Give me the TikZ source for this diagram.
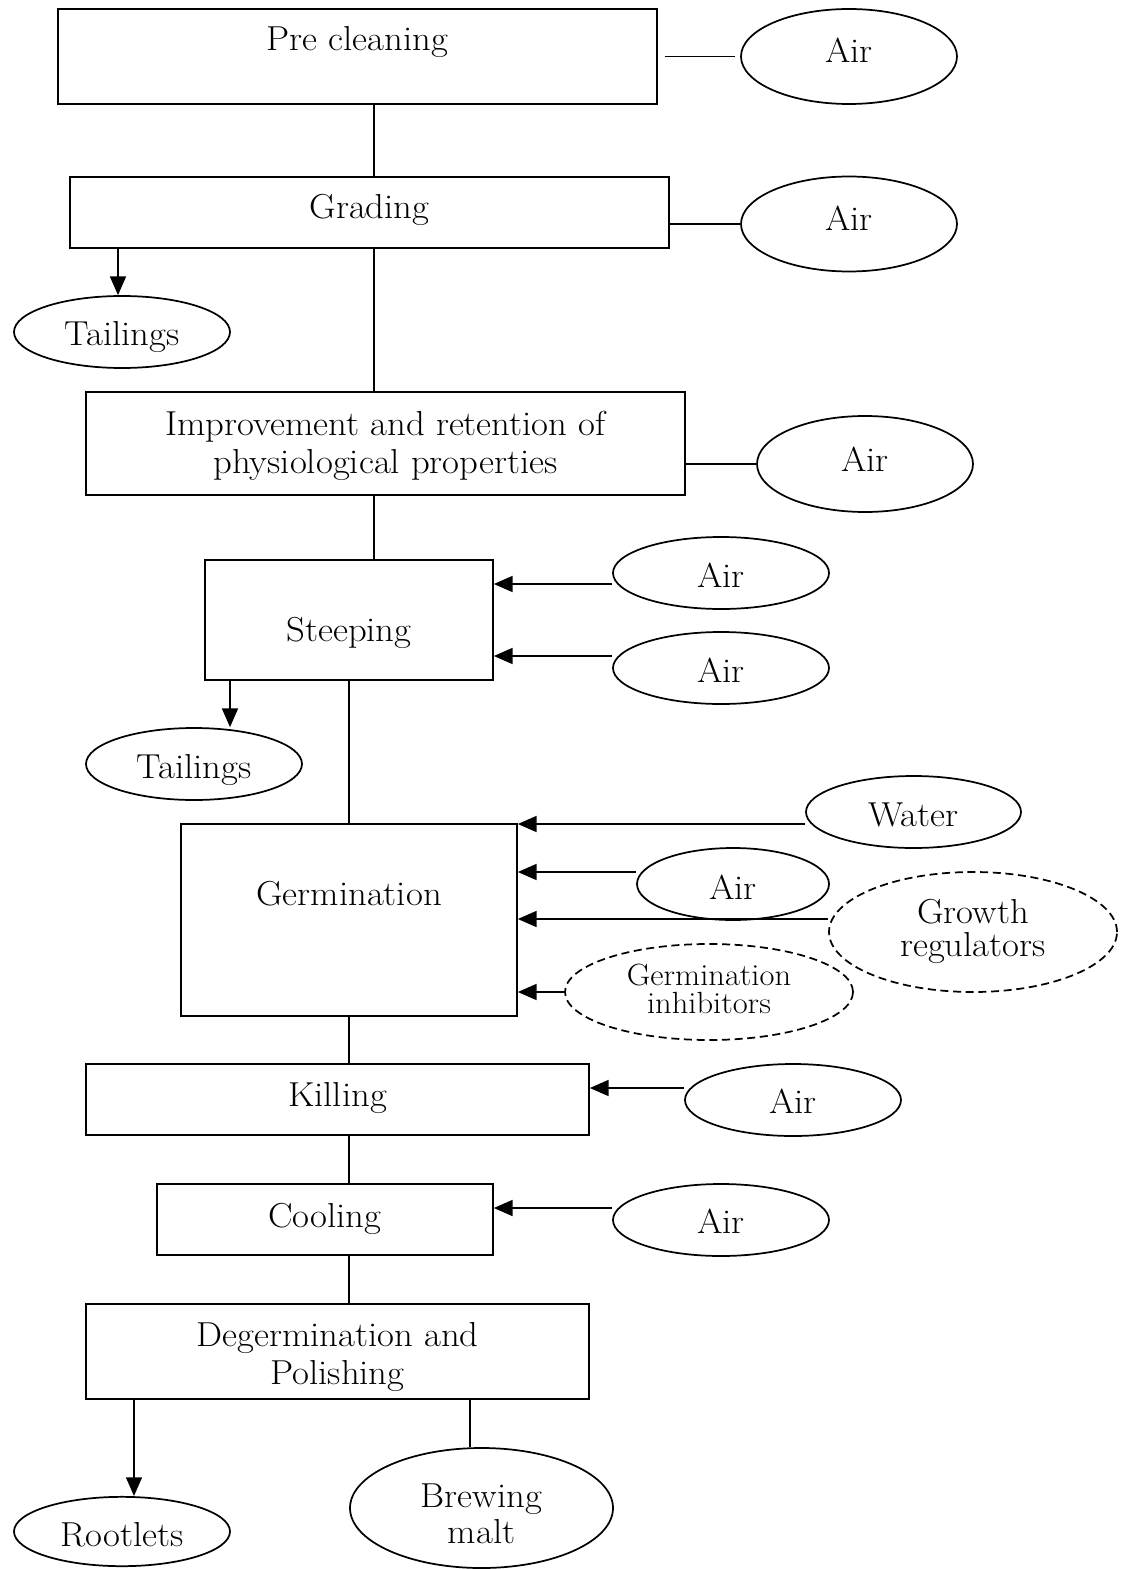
\documentclass[tikz,border=0pt]{standalone}
\usepackage{fontspec}
\setmainfont{Latin Modern Roman}[FakeStretch=1.06]
\usetikzlibrary{shapes.geometric,arrows.meta}
\begin{document}
\begin{tikzpicture}[x=0.75pt,y=-0.75pt,
  box/.style={draw, line width=1.3pt, rectangle, inner sep=0pt},
  oval/.style={draw, line width=1.3pt, ellipse, inner sep=0pt},
  dashedoval/.style={oval, dash pattern=on 6pt off 3.5pt},
  txt/.style={font=\fontsize{26}{28}\selectfont, anchor=base, inner sep=0pt, align=center},
  smalltxt/.style={font=\fontsize{23}{21}\selectfont, anchor=base, inner sep=0pt, align=center},
  link/.style={line width=1.1pt},
  arr/.style={line width=1.1pt, -{Triangle[length=14pt,width=12pt]}}]
\useasboundingbox (0,0) rectangle (1129,1569);

% ---- process boxes ----
\node[box, minimum width=449.25pt, minimum height=71.25pt] (pre)  at (357.5,56.5) {};
\node[box, minimum width=449.25pt, minimum height=53.25pt] (grad) at (369.5,212.5) {};
\node[box, minimum width=449.25pt, minimum height=77.25pt] (imp)  at (385.5,443.5) {};
\node[box, minimum width=216pt,    minimum height=90pt]    (st)   at (349,620) {};
\node[box, minimum width=252pt,    minimum height=144pt]   (germ) at (349,920) {};
\node[box, minimum width=377.25pt, minimum height=53.25pt] (kill) at (337.5,1099.5) {};
\node[box, minimum width=252pt,    minimum height=53.25pt] (cool) at (325,1219.5) {};
\node[box, minimum width=377.25pt, minimum height=71.25pt] (deg)  at (337.5,1351.5) {};

% labels are placed by the baseline of their last line
\node[txt] (preT)  at (357.5,51)  {Pre cleaning};
\node[txt] (gradT) at (369.5,219) {Grading};
\node[txt] (impT)  at (385.5,473) {Improvement and retention of\\physiological properties};
\node[txt] (stT)   at (349,641)   {Steeping};
\node[txt] (germT) at (349,905)   {Germination};
\node[txt] (killT) at (337.5,1106) {Killing};
\node[txt] (coolT) at (325,1227)  {Cooling};
\node[txt] (degT)  at (337.5,1384) {Degermination and\\Polishing};

% ---- inputs and outputs ----
\node[oval, minimum width=162pt, minimum height=71.25pt] (air1) at (849,56.5) {};
\node[oval, minimum width=162pt, minimum height=71.25pt] (air2) at (849,224) {};
\node[oval, minimum width=162pt, minimum height=72pt]    (air3) at (865,464) {};
\node[oval, minimum width=162pt, minimum height=54pt]    (air4) at (721,573) {};
\node[oval, minimum width=162pt, minimum height=54pt]    (air5) at (721,668) {};
\node[oval, minimum width=162pt, minimum height=54pt]    (tail1) at (122,332) {};
\node[oval, minimum width=162pt, minimum height=54pt]    (tail2) at (194,764) {};
\node[oval, minimum width=161.25pt, minimum height=54pt] (water) at (913.5,812) {};
\node[oval, minimum width=144pt, minimum height=54pt]    (air6) at (733,884) {};
\node[dashedoval, minimum width=216pt, minimum height=90pt] (grow) at (973,932) {};
\node[dashedoval, minimum width=216pt, minimum height=72pt] (inh)  at (709,992) {};
\node[oval, minimum width=162pt, minimum height=54pt]    (air7) at (793,1100) {};
\node[oval, minimum width=162pt, minimum height=54pt]    (air8) at (721,1220) {};
\node[oval, minimum width=162pt, minimum height=52pt]    (root) at (122,1531.5) {};
\node[oval, minimum width=197.25pt, minimum height=90pt] (brew) at (481.5,1508) {};

\node[txt] (air1T)  at (849,63)   {Air};
\node[txt] (air2T)  at (849,231)  {Air};
\node[txt] (air3T)  at (865,471)  {Air};
\node[txt] (air4T)  at (721,587)  {Air};
\node[txt] (air5T)  at (721,682)  {Air};
\node[txt] (tail1T) at (122,345)  {Tailings};
\node[txt] (tail2T) at (194,778)  {Tailings};
\node[txt] (waterT) at (913.5,826) {Water};
\node[txt] (air6T)  at (733,899)  {Air};
\node[txt, font=\fontsize{26}{24.5}\selectfont] (growT) at (973,956) {Growth\\regulators};
\node[smalltxt] (inhT) at (709,1013) {Germination\\inhibitors};
\node[txt] (air7T)  at (793,1113) {Air};
\node[txt] (air8T)  at (721,1233) {Air};
\node[txt] (rootT)  at (122,1546) {Rootlets};
\node[txt, font=\fontsize{26}{27}\selectfont] (brewT) at (481.5,1543) {Brewing\\malt};

% ---- column positions of the main flow ----
\coordinate (c1) at (374,0);
\coordinate (c2) at (349,0);
\coordinate (c3) at (118,0);
\coordinate (c4) at (230,0);
\coordinate (c5) at (134,0);
\coordinate (c6) at (470,0);

% ---- main flow ----
\draw[link] (pre.south -| c1) -- (grad.north -| c1);
\draw[link] (grad.south -| c1) -- (imp.north -| c1);
\draw[link] (imp.south -| c1) -- (st.north -| c1);
\draw[link] (st.south -| c2) -- (germ.north -| c2);
\draw[link] (germ.south -| c2) -- (kill.north -| c2);
\draw[link] (kill.south -| c2) -- (cool.north -| c2);
\draw[link] (cool.south -| c2) -- (deg.north -| c2);

% ---- side streams ----
\draw[arr] (grad.south -| c3) -- (tail1.north -| c3);
\draw[arr] (st.south -| c4) -- (tail2.north -| c4);
\draw[arr] (deg.south -| c5) -- (root.north -| c5);
\draw[link] (deg.south -| c6) -- (brew.north -| c6);

% ---- air feeds without arrowheads ----
\draw[link, shorten <=5pt, shorten >=4pt] (pre.east) -- (air1.west);
\draw[link] (grad.east |- air2.west) -- (air2.west);
\draw[link] (imp.east |- air3.west) -- (air3.west);

% ---- feeds into the boxes ----
\path (air4.west) ++(0,11) coordinate (a4);
\draw[arr] (a4) -- (st.east |- a4);
\path (air5.west) ++(0,-12) coordinate (a5);
\draw[arr] (a5) -- (st.east |- a5);
\path (water.west) ++(0,12) coordinate (aw);
\draw[arr] (aw) -- (germ.east |- aw);
\path (air6.west) ++(0,-12) coordinate (a6);
\draw[arr] (a6) -- (germ.east |- a6);
\path (grow.west) ++(0,-13) coordinate (ag);
\draw[arr] (ag) -- (germ.east |- ag);
\draw[arr] (inh.west) -- (germ.east |- inh.west);
\path (air7.west) ++(0,-12) coordinate (a7);
\draw[arr] (a7) -- (kill.east |- a7);
\path (air8.west) ++(0,-12) coordinate (a8);
\draw[arr] (a8) -- (cool.east |- a8);
\end{tikzpicture}
\end{document}
